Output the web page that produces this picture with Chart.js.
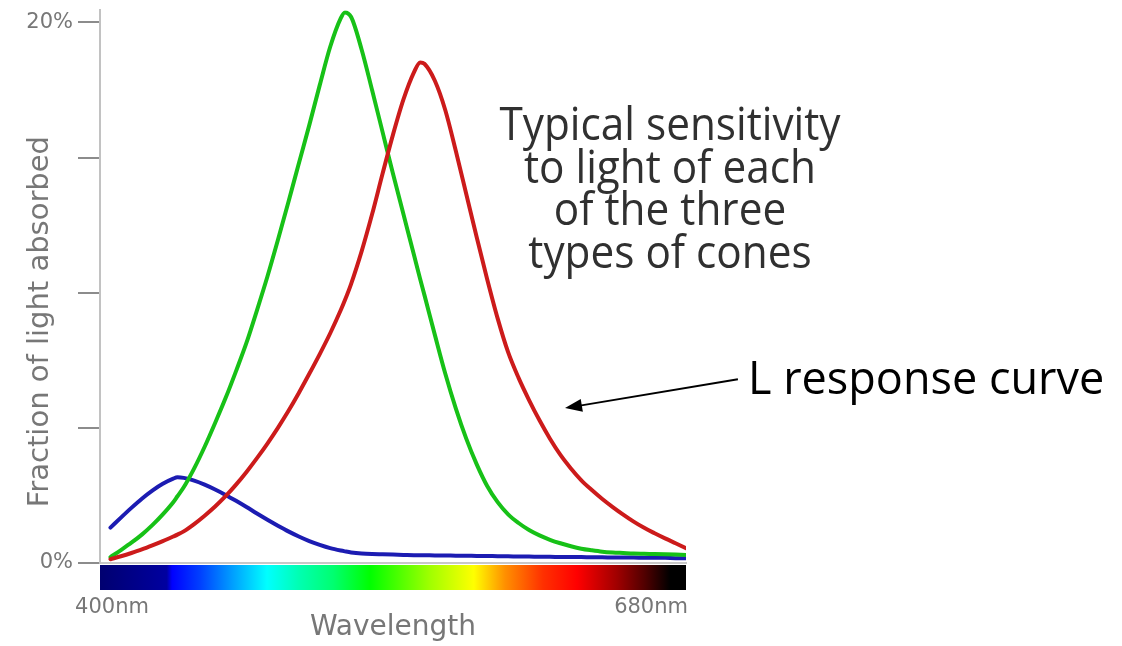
<!DOCTYPE html>
<html>
<head>
<meta charset="utf-8">
<title>Cone sensitivity</title>
<script src="https://cdn.jsdelivr.net/npm/chart.js@4.4.1/dist/chart.umd.min.js"></script>
<style>
  html, body { margin: 0; padding: 0; background: #fff; }
  #wrap { position: relative; width: 1122px; height: 646px; overflow: hidden; }
  #wrap canvas { position: absolute; left: 0; top: 0; }
  .note { position: absolute; font-family: 'Open Sans', sans-serif; white-space: nowrap; }
  #caption { left: 420px; top: 101px; width: 500px; text-align: center; font-size: 46px; line-height: 42.5px; color: #303030; transform: scaleX(0.92); }
  #lcurve { left: 748px; top: 354px; font-size: 45px; line-height: 45px; color: #000; }
</style>
</head>
<body>
<div id="wrap">
  <canvas id="coneChart" width="1122" height="646"></canvas>
  <div class="note" id="caption">Typical sensitivity<br>to light of each<br>of the three<br>types of cones</div>
  <div class="note" id="lcurve">L response curve</div>
</div>
<script>
// wavelength in nm, values in % of light absorbed
const wavelengths = [405, 410, 415, 420, 425, 430, 435, 437, 440, 445, 450, 455, 460, 465, 470, 475,
  480, 485, 490, 495, 500, 505, 510, 515, 517, 520, 525, 530, 535, 540, 545, 550, 553, 555, 560,
  565, 570, 575, 580, 585, 590, 595, 600, 605, 610, 615, 620, 625, 630, 635, 640, 645, 650, 655,
  660, 665, 670, 675, 680];

const lCone = [0.14, 0.25, 0.37, 0.50, 0.65, 0.81, 0.98, 1.05, 1.17, 1.44, 1.75, 2.09, 2.47, 2.90,
  3.37, 3.88, 4.42, 5.00, 5.62, 6.29, 7.00, 7.73, 8.50, 9.35, 9.72, 10.33, 11.53, 12.90, 14.40,
  15.85, 17.15, 18.15, 18.52, 18.47, 17.84, 16.75, 15.25, 13.65, 12.05, 10.50, 9.05, 7.80, 6.85,
  6.03, 5.28, 4.60, 4.00, 3.50, 3.06, 2.70, 2.37, 2.07, 1.79, 1.53, 1.30, 1.10, 0.91, 0.73, 0.55];

const mCone = [0.22, 0.48, 0.75, 1.05, 1.40, 1.80, 2.25, 2.47, 2.80, 3.50, 4.30, 5.18, 6.10, 7.10,
  8.15, 9.35, 10.60, 11.95, 13.35, 14.78, 16.20, 17.68, 19.10, 20.15, 20.37, 20.20, 19.00, 17.50,
  15.95, 14.40, 12.90, 11.40, 10.50, 9.92, 8.44, 7.00, 5.72, 4.60, 3.65, 2.85, 2.25, 1.80, 1.48,
  1.22, 1.02, 0.86, 0.73, 0.62, 0.53, 0.47, 0.42, 0.39, 0.37, 0.35, 0.34, 0.33, 0.32, 0.31, 0.30];

const sCone = [1.31, 1.68, 2.04, 2.38, 2.68, 2.93, 3.12, 3.17, 3.15, 3.05, 2.90, 2.72, 2.52, 2.30,
  2.07, 1.83, 1.60, 1.38, 1.17, 0.98, 0.81, 0.67, 0.55, 0.46, 0.43, 0.39, 0.35, 0.33, 0.32, 0.31,
  0.30, 0.29, 0.29, 0.29, 0.28, 0.28, 0.27, 0.27, 0.26, 0.26, 0.25, 0.25, 0.24, 0.24, 0.23, 0.23,
  0.22, 0.22, 0.22, 0.21, 0.21, 0.20, 0.20, 0.20, 0.19, 0.19, 0.19, 0.18, 0.18];

const yTicks = [0, 5, 10, 15, 20];
const xRange = [400, 680];
const yMax = 20.45;

// arrow from the "L response curve" label to the red curve (data coords)
const arrowFrom = { x: 704.8, y: 6.8 };
const arrowTo = { x: 622.2, y: 5.73 };

// colour bar under the x axis
const spectrumStops = [
  [0.000, '#000070'], [0.114, '#0000a0'], [0.123, '#0000ff'], [0.171, '#0040ff'],
  [0.227, '#00a0ff'], [0.285, '#00ffff'], [0.341, '#00ffb0'], [0.398, '#00ff70'],
  [0.461, '#00ff00'], [0.563, '#a0ff00'], [0.638, '#ffff00'], [0.691, '#ff9000'],
  [0.756, '#ff3000'], [0.814, '#ff0000'], [0.882, '#a00000'], [0.930, '#500000'],
  [0.973, '#000000'], [1.000, '#000000']
];

function toPoints(values) {
  return wavelengths.map(function(w, i) { return { x: w, y: values[i] }; });
}

const extras = {
  id: 'extras',
  afterDraw: function(chart) {
    const ctx = chart.ctx;
    const area = chart.chartArea;
    const xs = chart.scales.x;
    const ys = chart.scales.y;
    ctx.save();

    // spectrum bar
    const grad = ctx.createLinearGradient(area.left, 0, area.right, 0);
    spectrumStops.forEach(function(s) { grad.addColorStop(s[0], s[1]); });
    ctx.fillStyle = grad;
    ctx.fillRect(area.left, area.bottom + 2, area.right - area.left, 25);

    // end labels of the wavelength axis
    ctx.font = '21px "DejaVu Sans"';
    ctx.fillStyle = '#777';
    ctx.textBaseline = 'alphabetic';
    ctx.textAlign = 'center';
    ctx.fillText(xRange[0] + 'nm', xs.getPixelForValue(xRange[0]) + 12, area.bottom + 50);
    ctx.textAlign = 'right';
    ctx.fillText(xRange[1] + 'nm', xs.getPixelForValue(xRange[1]) + 2, area.bottom + 50);

    // y axis title
    ctx.save();
    ctx.translate(40, (area.top + area.bottom) / 2 + 35);
    ctx.rotate(-Math.PI / 2);
    ctx.font = '29px "DejaVu Sans"';
    ctx.textAlign = 'center';
    ctx.textBaseline = 'middle';
    ctx.fillText('Fraction of light absorbed', 0, 0);
    ctx.restore();

    // arrow
    const x0 = xs.getPixelForValue(arrowFrom.x), y0 = ys.getPixelForValue(arrowFrom.y);
    const x1 = xs.getPixelForValue(arrowTo.x), y1 = ys.getPixelForValue(arrowTo.y);
    const ang = Math.atan2(y1 - y0, x1 - x0);
    const head = 17, half = 6.5;
    ctx.strokeStyle = '#000';
    ctx.fillStyle = '#000';
    ctx.lineWidth = 2;
    ctx.beginPath();
    ctx.moveTo(x0, y0);
    ctx.lineTo(x1 - Math.cos(ang) * head * 0.8, y1 - Math.sin(ang) * head * 0.8);
    ctx.stroke();
    ctx.beginPath();
    ctx.moveTo(x1, y1);
    ctx.lineTo(x1 - Math.cos(ang) * head - Math.sin(ang) * half, y1 - Math.sin(ang) * head + Math.cos(ang) * half);
    ctx.lineTo(x1 - Math.cos(ang) * head + Math.sin(ang) * half, y1 - Math.sin(ang) * head - Math.cos(ang) * half);
    ctx.closePath();
    ctx.fill();

    ctx.restore();
  }
};

Chart.defaults.font.family = '"DejaVu Sans", sans-serif';

const ctx = document.getElementById('coneChart');
try {
  new Chart(ctx, {
    type: 'line',
    data: {
      datasets: [
        { label: 'L', data: toPoints(lCone), borderColor: '#cc1b1b' },
        { label: 'M', data: toPoints(mCone), borderColor: '#17c117' },
        { label: 'S', data: toPoints(sCone), borderColor: '#1c1cb2' }
      ]
    },
    options: {
      responsive: false,
      animation: false,
      layout: { padding: { top: 10, right: 436, bottom: 0, left: 0 } },
      elements: {
        line: { borderWidth: 4, fill: false, cubicInterpolationMode: 'monotone', borderJoinStyle: 'round', borderCapStyle: 'round' },
        point: { radius: 0, hoverRadius: 0 }
      },
      plugins: {
        legend: { display: false },
        tooltip: { enabled: false }
      },
      scales: {
        x: {
          type: 'linear',
          min: xRange[0],
          max: xRange[1],
          grid: { display: false },
          border: { display: true, color: '#c8c8c8', width: 2 },
          ticks: { display: false },
          title: {
            display: true,
            text: 'Wavelength',
            color: '#777',
            font: { size: 28 },
            padding: { top: 0, bottom: 1 }
          },
          afterFit: function(scale) { scale.height = 83; }
        },
        y: {
          min: 0,
          max: yMax,
          afterBuildTicks: function(scale) {
            scale.ticks = yTicks.map(function(v) { return { value: v }; });
          },
          grid: {
            display: true,
            drawOnChartArea: false,
            drawTicks: true,
            tickLength: 22,
            color: '#8c8c8c',
            lineWidth: 2
          },
          border: { display: true, color: '#c2c2c2', width: 2 },
          ticks: {
            color: '#777',
            padding: 5,
            font: { size: 21, lineHeight: 0.5 },
            callback: function(v) {
              return (v === yTicks[0] || v === yTicks[yTicks.length - 1]) ? v + '%' : '';
            }
          },
          afterFit: function(scale) { scale.width = 100; }
        }
      }
    },
    plugins: [extras]
  });
} catch (error) {
  console.error('Chart init failed:', error);
}
</script>
</body>
</html>
